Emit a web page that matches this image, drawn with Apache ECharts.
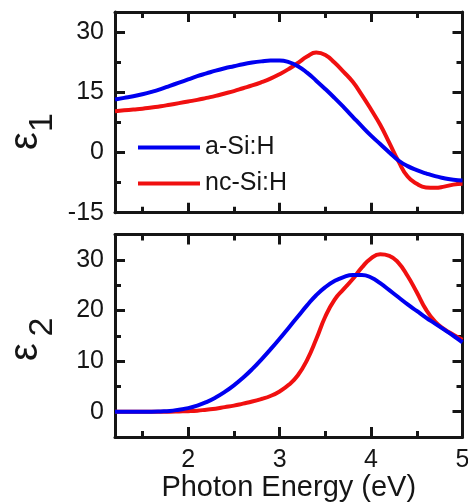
<!DOCTYPE html>
<html>
<head>
<meta charset="utf-8">
<script src="https://cdn.jsdelivr.net/npm/echarts@6/dist/echarts.min.js"></script>
<style>
  html, body { margin: 0; padding: 0; background: #fff; }
  #chart { width: 468px; height: 504px; }
</style>
</head>
<body>
<div id="chart"></div>
<script>
// Photon energy grid (eV)
const energy = [1.2, 1.3, 1.4, 1.5, 1.6, 1.7, 1.8, 1.9, 2.0, 2.1, 2.2, 2.3, 2.4,
  2.5, 2.6, 2.7, 2.8, 2.9, 3.0, 3.1, 3.2, 3.3, 3.4, 3.5, 3.6, 3.7, 3.8, 3.9,
  4.0, 4.1, 4.2, 4.3, 4.4, 4.5, 4.6, 4.7, 4.8, 4.9, 5.0];

// Real part of the dielectric function
const eps1_aSiH = [13.2, 13.6, 14.0, 14.5, 15.1, 15.8, 16.6, 17.4, 18.2, 19.0, 19.7, 20.4, 21.0,
  21.5, 22.0, 22.4, 22.7, 22.9, 22.9, 22.5, 21.5, 19.9, 17.9, 15.8, 13.6, 11.3, 8.9, 6.5,
  4.2, 2.1, 0.0, -2.0, -3.4, -4.4, -5.2, -5.9, -6.4, -6.8, -7.0];
const eps1_ncSiH = [10.3, 10.5, 10.7, 10.9, 11.2, 11.5, 11.9, 12.3, 12.7, 13.1, 13.6, 14.1, 14.7,
  15.3, 16.0, 16.7, 17.5, 18.4, 19.5, 20.8, 22.3, 23.9, 24.9, 24.3, 22.4, 20.1, 17.6, 14.3,
  10.7, 6.9, 2.4, -2.2, -6.0, -7.8, -8.7, -8.8, -8.5, -8.0, -7.8];

// Imaginary part of the dielectric function
const eps2_aSiH = [0, 0, 0, 0, 0, 0.05, 0.15, 0.4, 0.7, 1.2, 1.9, 2.8, 3.9,
  5.2, 6.7, 8.4, 10.3, 12.3, 14.4, 16.6, 18.8, 21.0, 23.0, 24.6, 25.8, 26.6, 27.0, 27.0,
  26.5, 25.4, 24.0, 22.6, 21.2, 19.9, 18.6, 17.4, 16.2, 15.0, 13.7];
const eps2_ncSiH = [0, 0, 0, 0, 0, 0, 0, 0.05, 0.1, 0.2, 0.4, 0.6, 0.9,
  1.2, 1.6, 2.0, 2.5, 3.1, 4.0, 5.3, 7.2, 10.2, 14.3, 18.8, 22.1, 24.2, 26.2, 28.5,
  30.3, 31.1, 30.8, 29.4, 26.8, 23.6, 20.2, 17.8, 16.3, 15.2, 14.2];

const seriesNames = ['a-Si:H', 'nc-Si:H'];

// Tick positions
const energyRange = [1.2, 5];
const energyMajorTicks = [2, 3, 4, 5];
const energyMinorTicks = [1.5, 2.5, 3.5, 4.5];
const eps1Range = [-15, 35];
const eps1MajorTicks = [-15, 0, 15, 30];
const eps1MinorTicks = [-7.5, 7.5, 22.5];
const eps2Range = [-5, 35];
const eps2MajorTicks = [0, 10, 20, 30];
const eps2MinorTicks = [5, 15, 25];

const INK = '#151515';
const FONT = '"Liberation Sans", Arial, sans-serif';
const BLUE = '#0000f0';
const RED = '#f01010';

// One frame edge = a major-tick axis (with the line) plus a minor-tick axis on top of it
function edgeAxes(gridIndex, position, range, majors, minors, labelled, extra) {
  const common = {
    type: 'value', gridIndex: gridIndex, position: position,
    min: range[0], max: range[1],
    splitLine: { show: false },
    minorTick: { show: false }
  };
  const major = Object.assign({}, common, {
    axisLine: { show: true, onZero: false, lineStyle: { color: INK, width: 3 } },
    axisTick: { show: true, inside: true, length: 10, customValues: majors,
      lineStyle: { color: INK, width: 3 } },
    axisLabel: labelled
      ? { show: true, customValues: majors, color: INK, fontFamily: FONT, fontSize: 25, margin: 11 }
      : { show: false }
  }, extra || {});
  const minor = Object.assign({}, common, {
    axisLine: { show: false, onZero: false },
    axisTick: { show: true, inside: true, length: 6, customValues: minors,
      lineStyle: { color: INK, width: 3 } },
    axisLabel: { show: false }
  });
  return [major, minor];
}

const xAxes = [].concat(
  edgeAxes(0, 'bottom', energyRange, energyMajorTicks, energyMinorTicks, false),
  edgeAxes(0, 'top', energyRange, energyMajorTicks, energyMinorTicks, false),
  edgeAxes(1, 'bottom', energyRange, energyMajorTicks, energyMinorTicks, true, {
    name: 'Photon Energy (eV)', nameLocation: 'middle', nameGap: 36,
    nameTextStyle: { color: INK, fontFamily: FONT, fontSize: 29 }
  }),
  edgeAxes(1, 'top', energyRange, energyMajorTicks, energyMinorTicks, false)
);
const yAxes = [].concat(
  edgeAxes(0, 'left', eps1Range, eps1MajorTicks, eps1MinorTicks, true),
  edgeAxes(0, 'right', eps1Range, eps1MajorTicks, eps1MinorTicks, false),
  edgeAxes(1, 'left', eps2Range, eps2MajorTicks, eps2MinorTicks, true),
  edgeAxes(1, 'right', eps2Range, eps2MajorTicks, eps2MinorTicks, false)
);

function pairs(xs, ys) { return xs.map((x, i) => [x, ys[i]]); }

function curve(name, color, axisIndex, values, z) {
  return {
    name: name, type: 'line', xAxisIndex: axisIndex, yAxisIndex: axisIndex,
    data: pairs(energy, values), smooth: 0.5, symbol: 'none', showSymbol: false,
    lineStyle: { color: color, width: 4 }, itemStyle: { color: color },
    clip: true, z: z
  };
}

const chart = echarts.init(document.getElementById('chart'), null, { renderer: 'canvas' });
chart.setOption({
  animation: false,
  backgroundColor: '#ffffff',
  grid: [
    { left: 115, top: 12, width: 347.5, height: 200.7, containLabel: false, outerBoundsMode: 'none' },
    { left: 115, top: 234.5, width: 347.5, height: 202.5, containLabel: false, outerBoundsMode: 'none' }
  ],
  xAxis: xAxes,
  yAxis: yAxes,
  legend: {
    data: seriesNames, orient: 'vertical', left: 133, top: 130,
    icon: 'rect', itemWidth: 62, itemHeight: 4, itemGap: 11,
    textStyle: { color: INK, fontFamily: FONT, fontSize: 25 }
  },
  graphic: [
    { type: 'text', x: 26, y: 141, rotation: Math.PI / 2,
      style: { text: 'ε', fill: INK, font: '40px "Liberation Sans", Arial, sans-serif', align: 'center', verticalAlign: 'middle' } },
    { type: 'text', x: 43, y: 122.5, rotation: Math.PI / 2,
      style: { text: '1', fill: INK, font: '34px "Liberation Sans", Arial, sans-serif', align: 'center', verticalAlign: 'middle' } },
    { type: 'text', x: 26, y: 352, rotation: Math.PI / 2,
      style: { text: 'ε', fill: INK, font: '40px "Liberation Sans", Arial, sans-serif', align: 'center', verticalAlign: 'middle' } },
    { type: 'text', x: 43, y: 327, rotation: Math.PI / 2,
      style: { text: '2', fill: INK, font: '34px "Liberation Sans", Arial, sans-serif', align: 'center', verticalAlign: 'middle' } }
  ],
  series: [
    curve(seriesNames[1], RED, 0, eps1_ncSiH, 3),
    curve(seriesNames[0], BLUE, 0, eps1_aSiH, 4),
    curve(seriesNames[1], RED, 4, eps2_ncSiH, 3),
    curve(seriesNames[0], BLUE, 4, eps2_aSiH, 4)
  ]
});
</script>
</body>
</html>
